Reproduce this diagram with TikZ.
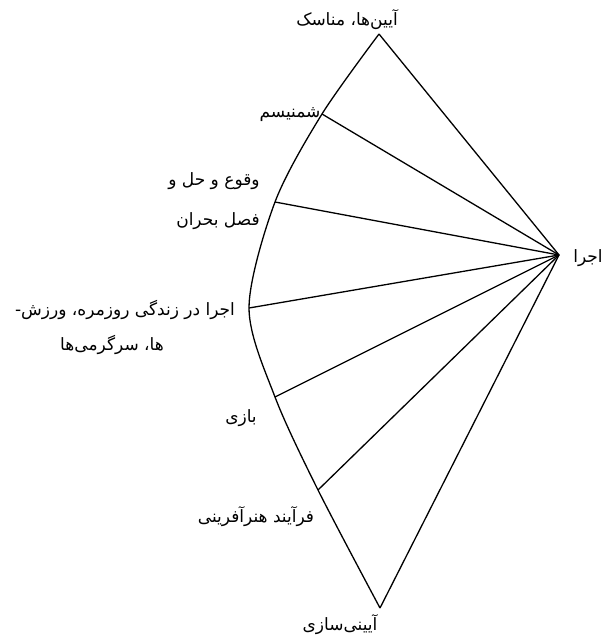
\documentclass[tikz,border=0pt]{standalone}
\usepackage{fontspec}
\usepackage{tikz}
\TeXXeTstate=1
\newfontfamily\arabicfont[Script=Arabic]{DejaVu Sans}

\begin{document}
\begin{tikzpicture}[x=1pt,y=-1pt,font=\arabicfont\fontsize{17}{20}\selectfont]
      \useasboundingbox (0,0) rectangle (606,642);
      \coordinate (T) at (379,34);
      \coordinate (B) at (380,608);
      \coordinate (P) at (559,255);
      \coordinate (C1) at (322,114);
      \coordinate (C2) at (275,202);
      \coordinate (C3) at (249,308);
      \coordinate (C4) at (275,397);
      \coordinate (C5) at (318,490);
      \draw [line width=1.3pt] plot [smooth] coordinates {(T) (C1) (C2) (C3) (C4) (C5) (B)};
      \draw [line width=1.3pt] (T) to (P) to (B);
      \draw [line width=1.3pt] (C1) to (P);
      \draw [line width=1.3pt] (C2) to (P);
      \draw [line width=1.3pt] (C3) to (P);
      \draw [line width=1.3pt] (C4) to (P);
      \draw [line width=1.3pt] (C5) to (P);
      \node (LT) at (347,20) {\beginR آیین‌ها، مناسک\endR};
      \node (L1) at (290,115) {\beginR شمنیسم\endR};
      \node (L2a) at (214,181) {\beginR وقوع و حل و\endR};
      \node (L2b) at (218,221) {\beginR فصل بحران\endR};
      \node (L3a) at (125,310) {\beginR اجرا در زندگی روزمره، ورزش-\endR};
      \node (L3b) at (112,345) {\beginR ها، سرگرمی‌ها\endR};
      \node (L4) at (241,418) {\beginR بازی\endR};
      \node (L5) at (256,517) {\beginR فرآیند هنرآفرینی\endR};
      \node (LB) at (340,625) {\beginR آیینی‌سازی\endR};
      \node (LP) at (588,258) {\beginR اجرا\endR};
\end{tikzpicture}
\end{document}
